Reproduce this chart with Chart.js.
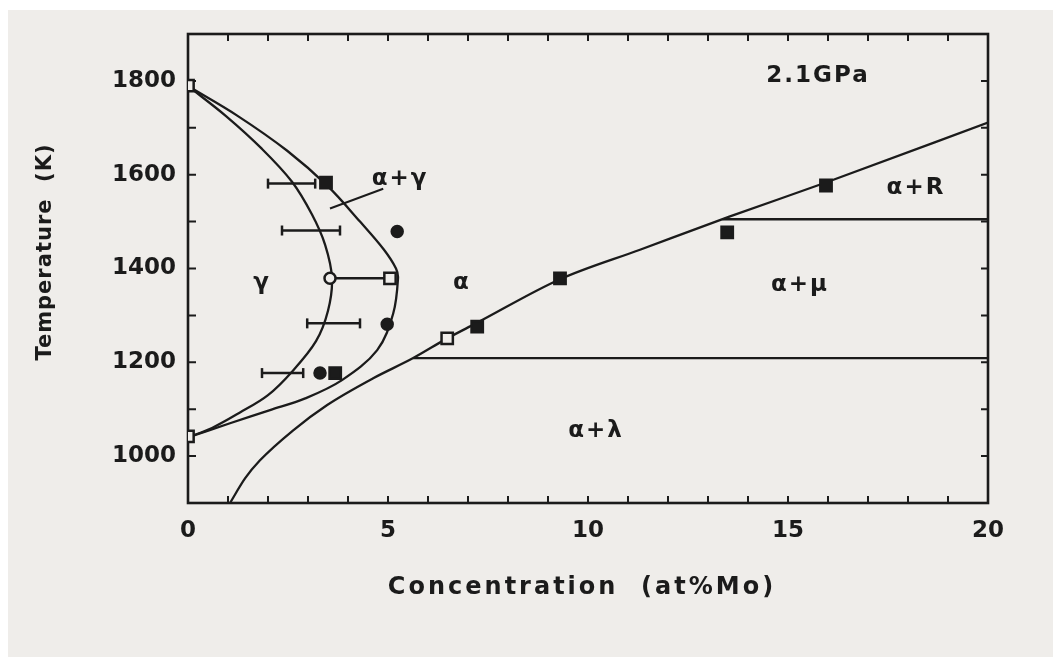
<!DOCTYPE html>
<html>
<head>
<meta charset="utf-8">
<script src="https://cdn.jsdelivr.net/npm/chart.js@4.4.1/dist/chart.umd.min.js"></script>
<style>
  html, body { margin: 0; padding: 0; background: #fff; }
  canvas { display: block; }
</style>
</head>
<body>
<canvas id="chart" width="1053" height="657"></canvas>
<script>
// Fe-Mo phase diagram at 2.1 GPa, composition in at%Mo, temperature in K

// gamma / (alpha+gamma) boundary
const gammaInnerX = [0, 0.95, 1.85, 2.6, 3.1, 3.43, 3.6, 3.5, 3.2, 2.6, 2.0, 1.3, 0.6, 0];
const gammaInnerT = [1789, 1725, 1655, 1585, 1515, 1450, 1379, 1310, 1245, 1180, 1130, 1093, 1060, 1040];

// (alpha+gamma) / alpha boundary
const gammaOuterX = [0, 1.23, 2.48, 3.5, 4.3, 4.9, 5.2, 5.25, 5.13, 4.73, 3.85, 2.93, 2.05, 1.05, 0];
const gammaOuterT = [1789, 1726, 1651, 1575, 1500, 1440, 1400, 1379, 1304, 1226, 1162, 1123, 1098, 1070, 1040];

// alpha solvus
const solvusX = [1.05, 1.43, 1.8, 2.63, 3.48, 4.63, 5.63, 6.48, 7.2, 9.3, 11.3, 13.55, 16.0, 20];
const solvusT = [900, 953, 991, 1055, 1109, 1166, 1209, 1251, 1283, 1377, 1440, 1511, 1585, 1711];

// horizontal three-phase lines: [x start, x end, T]
const lambdaLine = [5.63, 20, 1209];
const rLine = [13.36, 20, 1505];

// leader line for the alpha+gamma label
const leaderX = [3.55, 4.88];
const leaderT = [1528, 1570];

// horizontal error bars: [x from, x to, T]
const errorBars = [
  [2.0, 3.18, 1581],
  [2.35, 3.8, 1481],
  [3.55, 5.05, 1379],
  [2.98, 4.3, 1283],
  [1.85, 2.88, 1177]
];

// measured points
const filledSquareX = [3.45, 3.68, 7.23, 9.3, 13.48, 15.95];
const filledSquareT = [1583, 1177, 1276, 1379, 1477, 1577];
const filledCircleX = [5.23, 4.98, 3.3];
const filledCircleT = [1479, 1281, 1177];
const openCircleX = [3.55];
const openCircleT = [1379];
const openSquareX = [5.05, 6.48, 0, 0];
const openSquareT = [1379, 1251, 1790, 1042];

// phase labels
const phaseLabels = [
  { text: '2.1GPa', x: 15.75, y: 1811 },
  { text: 'α+γ', x: 5.3, y: 1591 },
  { text: 'γ', x: 1.85, y: 1370 },
  { text: 'α', x: 6.85, y: 1368 },
  { text: 'α+R', x: 18.2, y: 1572 },
  { text: 'α+μ', x: 15.3, y: 1364 },
  { text: 'α+λ', x: 10.2, y: 1053 }
];

const xTickLabels = [0, 5, 10, 15, 20];
const yTickLabels = [1000, 1200, 1400, 1600, 1800];

const ink = '#1b1b1b';
const paper = '#efedea';
const fontFamily = "'DejaVu Sans', 'Liberation Sans', sans-serif";

const zip = (xs, ys) => xs.map((x, i) => ({ x: x, y: ys[i] }));

const lineSet = (data, extra) => Object.assign({
  data: data,
  showLine: true,
  borderColor: ink,
  borderWidth: 2.3,
  pointRadius: 0,
  fill: false
}, extra || {});

const markerSet = (data, style, radius, filled) => ({
  data: data,
  showLine: false,
  pointStyle: style,
  pointRadius: radius,
  pointHoverRadius: radius,
  pointBorderWidth: 2.5,
  pointBorderColor: ink,
  pointBackgroundColor: filled ? ink : paper
});

const datasets = [
  markerSet(zip(filledSquareX, filledSquareT), 'rect', 8, true),
  markerSet(zip(filledCircleX, filledCircleT), 'circle', 5.5, true),
  markerSet(zip(openCircleX, openCircleT), 'circle', 5.5, false),
  markerSet(zip(openSquareX, openSquareT), 'rect', 8, false)
];

errorBars.forEach(b => {
  datasets.push(lineSet([{ x: b[0], y: b[2] }, { x: b[1], y: b[2] }], {
    borderWidth: 2.5,
    pointStyle: 'line',
    rotation: 90,
    pointRadius: 5,
    pointBorderWidth: 2.5,
    pointBorderColor: ink
  }));
});

datasets.push(lineSet(zip(gammaInnerX, gammaInnerT), { tension: 0.35 }));
datasets.push(lineSet(zip(gammaOuterX, gammaOuterT), { tension: 0.35 }));
datasets.push(lineSet(zip(solvusX, solvusT), { cubicInterpolationMode: 'monotone' }));
datasets.push(lineSet([{ x: lambdaLine[0], y: lambdaLine[2] }, { x: lambdaLine[1], y: lambdaLine[2] }]));
datasets.push(lineSet([{ x: rLine[0], y: rLine[2] }, { x: rLine[1], y: rLine[2] }]));
datasets.push(lineSet(zip(leaderX, leaderT), { borderWidth: 2 }));

const framePlugin = {
  id: 'frame',
  beforeDraw(chart) {
    const { ctx, width, height } = chart;
    ctx.save();
    ctx.fillStyle = '#ffffff';
    ctx.fillRect(0, 0, width, height);
    ctx.fillStyle = paper;
    ctx.fillRect(8, 10, width - 8, height - 10);
    ctx.restore();
  },
  beforeDatasetsDraw(chart) {
    const { ctx, chartArea: a, scales } = chart;
    ctx.save();
    ctx.strokeStyle = ink;
    ctx.lineWidth = 2.6;
    ctx.strokeRect(a.left, a.top, a.right - a.left, a.bottom - a.top);

    // inward ticks on all four sides
    ctx.lineWidth = 2;
    ctx.beginPath();
    scales.x.ticks.forEach(t => {
      const px = scales.x.getPixelForValue(t.value);
      ctx.moveTo(px, a.bottom); ctx.lineTo(px, a.bottom - 7);
      ctx.moveTo(px, a.top); ctx.lineTo(px, a.top + 7);
    });
    scales.y.ticks.forEach(t => {
      const py = scales.y.getPixelForValue(t.value);
      ctx.moveTo(a.left, py); ctx.lineTo(a.left + 8, py);
      ctx.moveTo(a.right, py); ctx.lineTo(a.right - 7, py);
    });
    ctx.stroke();

    // axis titles
    ctx.fillStyle = ink;
    ctx.textAlign = 'center';
    ctx.textBaseline = 'middle';
    ctx.font = 'bold 24px ' + fontFamily;
    ctx.letterSpacing = '3px';
    ctx.fillText('Concentration  (at%Mo)', 582, 588);
    ctx.translate(46, 252);
    ctx.rotate(-Math.PI / 2);
    ctx.font = 'bold 21px ' + fontFamily;
    ctx.letterSpacing = '1px';
    ctx.fillText('Temperature  (K)', 0, 0);
    ctx.restore();
  },
  afterDatasetsDraw(chart) {
    const { ctx, scales } = chart;
    ctx.save();
    ctx.fillStyle = ink;
    ctx.textAlign = 'center';
    ctx.textBaseline = 'middle';
    ctx.font = 'bold 23px ' + fontFamily;
    ctx.letterSpacing = '2px';
    phaseLabels.forEach(l => {
      ctx.fillText(l.text, scales.x.getPixelForValue(l.x), scales.y.getPixelForValue(l.y));
    });
    ctx.restore();
  }
};

new Chart(document.getElementById('chart'), {
  type: 'scatter',
  data: { datasets: datasets },
  plugins: [framePlugin],
  options: {
    responsive: false,
    animation: false,
    devicePixelRatio: 1,
    layout: { padding: { top: 34, right: 65, bottom: 0, left: 0 } },
    plugins: {
      legend: { display: false },
      tooltip: { enabled: false }
    },
    scales: {
      x: {
        type: 'linear',
        min: 0,
        max: 20,
        grid: { display: false },
        border: { display: false },
        afterFit: s => { s.height = 657 - 503; },
        ticks: {
          stepSize: 1,
          autoSkip: false,
          maxRotation: 0,
          padding: 6,
          color: ink,
          font: { family: fontFamily, size: 23, weight: 'bold' },
          callback: v => xTickLabels.includes(v) ? String(v) : ''
        }
      },
      y: {
        type: 'linear',
        min: 900,
        max: 1900,
        grid: { display: false },
        border: { display: false },
        afterFit: s => { s.width = 188; },
        ticks: {
          stepSize: 100,
          autoSkip: false,
          padding: 4,
          color: ink,
          font: { family: fontFamily, size: 23, weight: 'bold' },
          callback: v => yTickLabels.includes(v) ? String(v) : ''
        }
      }
    }
  }
});
</script>
</body>
</html>
